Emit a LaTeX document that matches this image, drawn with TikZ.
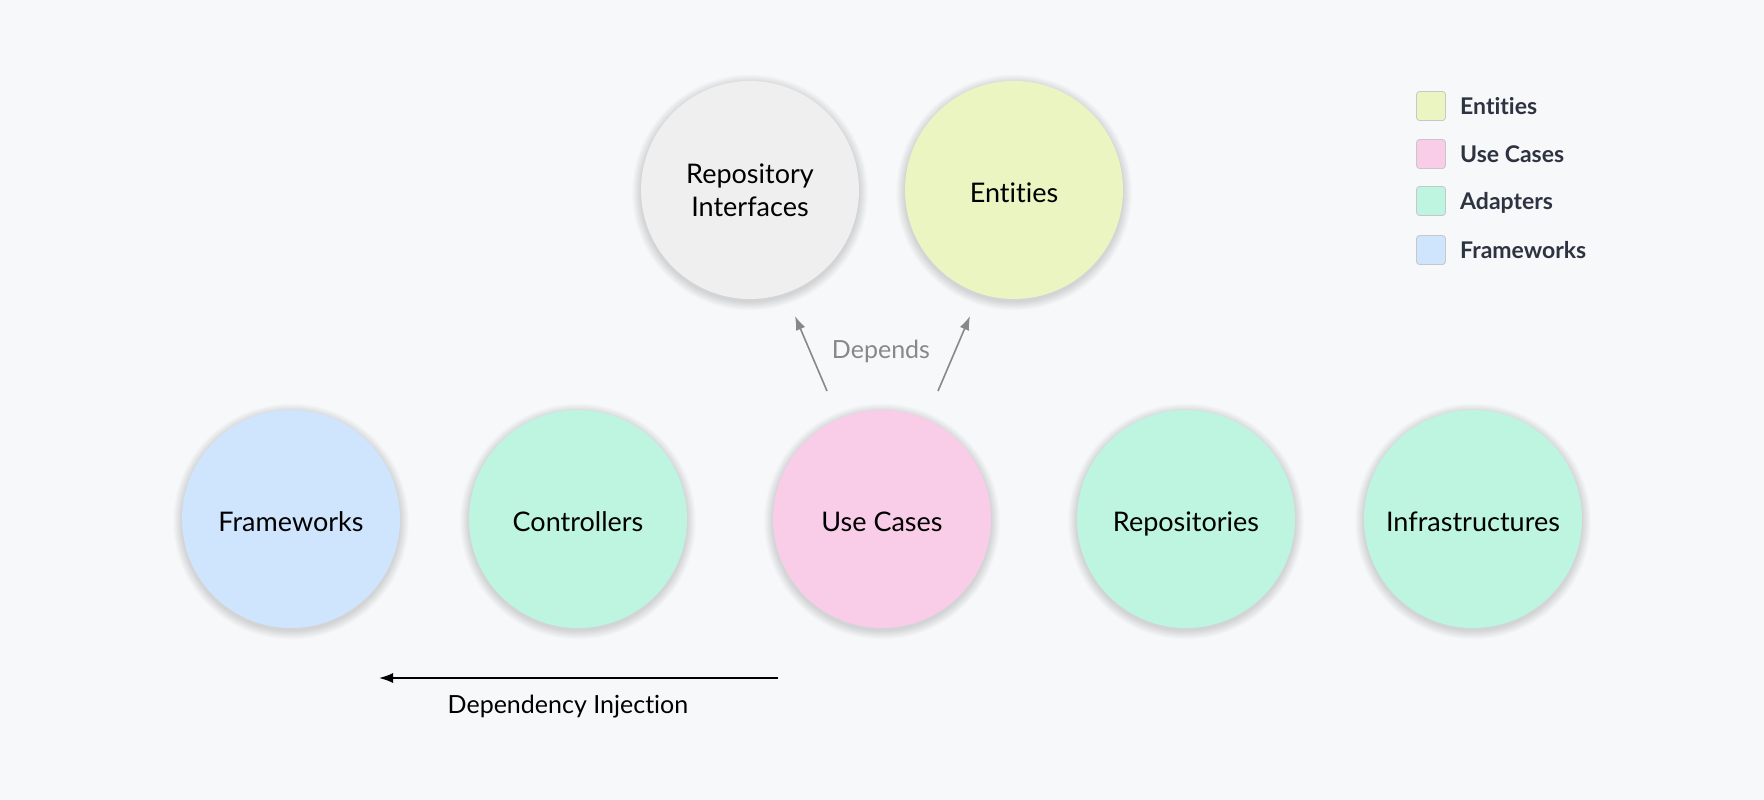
\documentclass[tikz,border=0pt]{standalone}
\usepackage{fontspec}
\setmainfont{Lato}[Ligatures={NoCommon,NoRare}]
\usetikzlibrary{arrows.meta,calc}
\definecolor{bg}{HTML}{F7F8FA}
\definecolor{cRepo}{HTML}{EFEFEF}
\definecolor{cEnt}{HTML}{EBF5C2}
\definecolor{cUse}{HTML}{F9CCE8}
\definecolor{cAdp}{HTML}{BDF5E1}
\definecolor{cFw}{HTML}{CFE4FD}
\definecolor{legtext}{HTML}{2D3340}
\definecolor{depgray}{HTML}{888888}
\pgfdeclarelayer{bglayer}
\pgfdeclarelayer{shadowlayer}
\pgfsetlayers{bglayer,shadowlayer,main}
\tikzset{
  layer/.style={circle, minimum size=218pt, inner sep=0pt, align=center,
    font=\fontsize{27}{33}\selectfont, text=black},
  oneline/.style={text height=24pt, text depth=0pt},
  legbox/.style={rectangle, rounded corners=3pt, minimum size=29pt, inner sep=0pt, draw=black!22, line width=0.8pt},
  legtxt/.style={anchor=west, inner sep=0pt, text height=16pt, text depth=0pt, font=\fontsize{23}{28}\selectfont\bfseries, text=legtext},
  dep/.style={draw=depgray, line width=1.6pt, -{Latex[length=14pt,width=10pt]}},
  di/.style={draw=black, line width=1.6pt, -{Latex[length=14pt,width=10pt]}}
}
\begin{document}
\begin{tikzpicture}[x=1pt,y=-1pt]
\begin{pgfonlayer}{bglayer}
\fill[bg] (0,0) rectangle (1764,800);
\end{pgfonlayer}
\useasboundingbox (0,0) rectangle (1764,800);

\node[layer, fill=cRepo] (repo) at (750,190) {Repository\\Interfaces};
\node[layer, oneline, fill=cEnt] (ent) at (1014,190) {Entities};
\node[layer, oneline, fill=cFw] (fw) at (291,519) {Frameworks};
\node[layer, oneline, fill=cAdp] (ctrl) at (578,519) {Controllers};
\node[layer, oneline, fill=cUse] (uc) at (882,519) {Use Cases};
\node[layer, oneline, fill=cAdp] (repos) at (1186,519) {Repositories};
\node[layer, oneline, fill=cAdp] (infra) at (1473,519) {Infrastructures};

\begin{pgfonlayer}{shadowlayer}
\foreach \n in {repo,ent,fw,ctrl,uc,repos,infra}{
  \foreach \i in {1,...,12}{
    \fill[black, opacity=0.011] ($(\n.center)+(0,2.5)$) circle ({109+\i*0.75});
  }
}
\end{pgfonlayer}

\coordinate (d1s) at (827,391);
\coordinate (d1e) at (795,316);
\coordinate (d2s) at (938,391);
\coordinate (d2e) at (970,316);
\draw[dep] (d1s) -- (d1e);
\draw[dep] (d2s) -- (d2e);
\node[text=depgray, font=\fontsize{25}{30}\selectfont] (deplbl) at (881,351) {Depends};

\coordinate (dis) at (778,678);
\coordinate (die) at (379,678);
\draw[di] (dis) -- (die);
\node[font=\fontsize{25}{30}\selectfont] (dilbl) at (568,707) {Dependency Injection};

\node[legbox, fill=cEnt] (l1) at (1431,106) {};
\node[legbox, fill=cUse] (l2) at (1431,154) {};
\node[legbox, fill=cAdp] (l3) at (1431,201) {};
\node[legbox, fill=cFw] (l4) at (1431,250) {};
\node[legtxt] (t1) at (1460,106) {Entities};
\node[legtxt] (t2) at (1460,154) {Use Cases};
\node[legtxt] (t3) at (1460,201) {Adapters};
\node[legtxt] (t4) at (1460,250) {Frameworks};
\end{tikzpicture}
\end{document}
